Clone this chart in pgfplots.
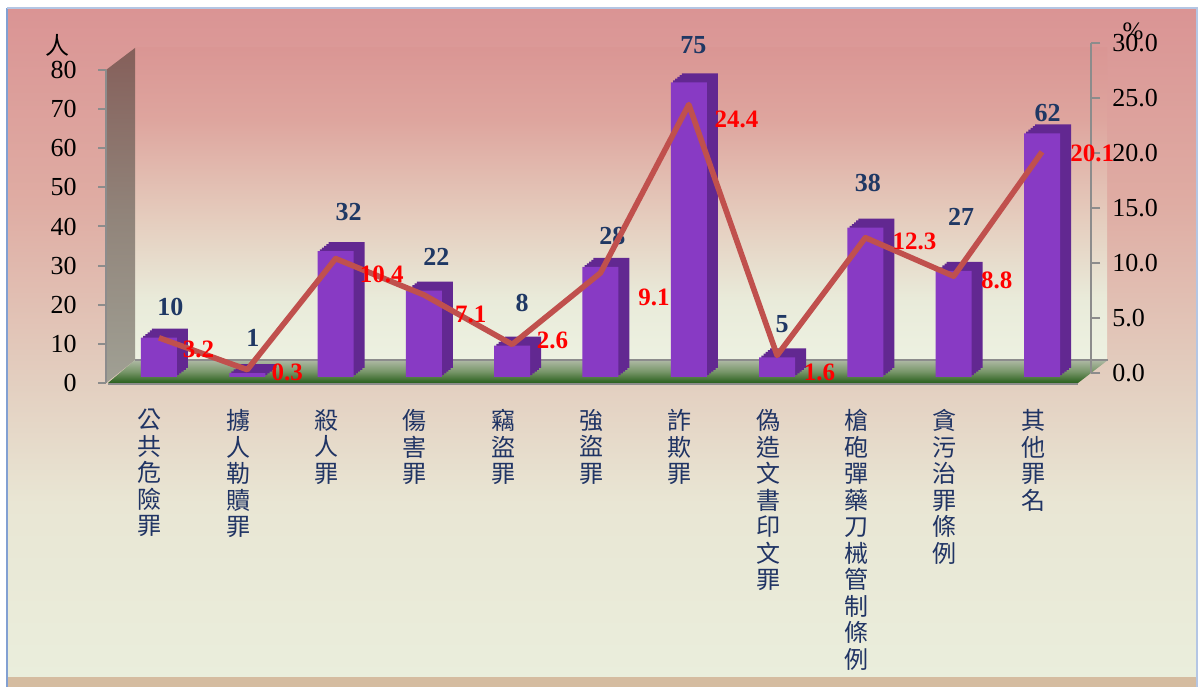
\documentclass[border=0pt]{standalone}
\usepackage{fontspec}
\setmainfont{Liberation Serif}
\newfontfamily\cjk{Noto Sans CJK TC}
\usepackage{pgfplots}
\usepackage{pgfplotstable}
\pgfplotsset{compat=1.18}

% colours
\definecolor{bgA}{RGB}{234,238,220}
\definecolor{bgB}{RGB}{233,230,212}
\definecolor{bgC}{RGB}{227,207,192}
\definecolor{bgD}{RGB}{223,172,163}
\definecolor{bgE}{RGB}{218,148,148}
\definecolor{wA}{RGB}{237,241,225}
\definecolor{wB}{RGB}{233,235,218}
\definecolor{wC}{RGB}{229,205,190}
\definecolor{wD}{RGB}{222,165,158}
\definecolor{wE}{RGB}{218,150,148}
\definecolor{sA}{RGB}{160,160,148}
\definecolor{sB}{RGB}{145,132,122}
\definecolor{sC}{RGB}{133,95,90}
\definecolor{fA}{RGB}{40,95,28}
\definecolor{fB}{RGB}{120,150,105}
\definecolor{fC}{RGB}{175,185,165}
\definecolor{barfront}{RGB}{136,58,196}
\definecolor{barside}{RGB}{98,40,145}
\definecolor{linered}{RGB}{192,80,77}
\definecolor{navy}{RGB}{31,56,100}
\definecolor{labelblue}{RGB}{32,52,100}
\definecolor{axisgrey}{RGB}{140,140,140}
\definecolor{tan}{RGB}{213,188,160}
\definecolor{frameblue}{RGB}{130,160,210}

\pgfdeclareverticalshading{outerbg}{100bp}{color(0bp)=(bgA); color(25bp)=(bgA); color(38bp)=(bgB); color(47bp)=(bgC); color(60.5bp)=(bgD); color(75bp)=(bgE); color(100bp)=(bgE)}
\pgfdeclareverticalshading{wallbg}{100bp}{color(0bp)=(wA); color(25bp)=(wA); color(34.5bp)=(wB); color(47.5bp)=(wC); color(63.5bp)=(wD); color(75bp)=(wE); color(100bp)=(wE)}
\pgfdeclareverticalshading{sidebg}{100bp}{color(0bp)=(sA); color(25bp)=(sA); color(50bp)=(sB); color(75bp)=(sC); color(100bp)=(sC)}
\pgfdeclareverticalshading{floorbg}{100bp}{color(0bp)=(fA); color(25bp)=(fA); color(50bp)=(fB); color(75bp)=(fC); color(100bp)=(fC)}

% counts, with label offsets in pt
\pgfplotstableread{
x  n   lx    ly
0  10  5.75  15.5
1  1   2.75  17.5
2  32  6.5   19.5
3  22  6.25  17
4  8   5     21.5
5  28  6     15.5
6  75  2.25  18.5
7  5   2.5   16.5
8  38  1.25  22.5
9  27  3.75  27
10 62  2.75  10
}\countdata

% percentages, with label offsets in pt
\pgfplotstableread{
x  p     lx     ly
0  3.2   10.5   -6
1  0.3   10.75  -1.5
2  10.4  10.75  -8
3  7.1   14.25  -10
4  2.6   11     2
5  9.1   17.5   -12.5
6  24.4  11.5   -7.5
7  1.6   12     -8.5
8  12.3  12.25  -2
9  8.8   12.25  -2
10 20.1  12.75  -0.5
}\pctdata

\begin{document}
\begin{tikzpicture}
% background, frame and 3d walls (pixel grid of the reference)
\begin{scope}[x=0.5pt,y=-0.5pt,shift={(0,343.5pt)}]
\fill[white] (0,0) rectangle (1202,687);
\shade[shading=outerbg] (8,8) rectangle (1197,677);
\fill[tan] (8,677) rectangle (1197,687);
\draw[frameblue,line width=1pt] (7,8) -- (7,687);
\draw[frameblue!60,line width=0.6pt] (7,8) -- (1197,8) -- (1197,687);
\shade[shading=wallbg] (135,48) rectangle (1107,360);
\shade[shading=sidebg] (106,70) -- (135,48) -- (135,360) -- (106,383) -- cycle;
\shade[shading=floorbg] (108,383) -- (1078,383) -- (1108,360) -- (135,360) -- cycle;
\draw[axisgrey,line width=1pt] (135,360) -- (1108,360);
\draw[axisgrey,line width=1pt] (108,384.5) -- (1078,384.5);
\node[font=\cjk\fontsize{12}{12}\selectfont] at (57,45) {人};
\node[font=\fontsize{12.5}{12.5}\selectfont] at (1133,31) {\%};
\end{scope}

% left axis and category names
\begin{axis}[
  at={(53pt,152pt)}, anchor=south west, scale only axis,
  width=492.5pt, height=156.5pt,
  xmin=-0.6, xmax=10.555, ymin=0, ymax=80,
  axis y line*=left, axis x line*=bottom,
  x axis line style={draw=none},
  y axis line style={draw=axisgrey,line width=1pt},
  tick align=outside, major tick length=4pt,
  ytick={0,10,...,80},
  ytick style={draw=axisgrey,line width=1pt},
  xtick={0,...,10},
  major x tick style={draw=none},
  yticklabel style={font=\fontsize{13}{13}\selectfont, inner sep=0pt, anchor=east, xshift=-10.5pt},
  /pgf/number format/assume math mode=true,
  xticklabels={{公\\共\\危\\險\\罪},{擄\\人\\勒\\贖\\罪},{殺\\人\\罪},{傷\\害\\罪},{竊\\盜\\罪},{強\\盜\\罪},{詐\\欺\\罪},{偽\\造\\文\\書\\印\\文\\罪},{槍\\砲\\彈\\藥\\刀\\械\\管\\制\\條\\例},{貪\\污\\治\\罪\\條\\例},{其\\他\\罪\\名}},
  xticklabel style={font=\cjk\fontsize{12}{13.25}\selectfont, align=center, anchor=north, inner sep=0pt, text=labelblue, xshift=-4.5pt, yshift=-9pt},
]
\addplot[draw=none] coordinates {(0,0)};
\end{axis}

% bars
\begin{axis}[
  at={(53pt,155pt)}, anchor=south west, scale only axis,
  width=492.5pt, height=157.2pt,
  xmin=-0.6, xmax=10.555, ymin=0, ymax=80,
  hide axis, clip=false,
]
\addplot[ybar, bar width=18pt, bar shift=5.5pt, yshift=4.5pt, fill=barside, draw=none] table[x=x,y=n] {\countdata};
\addplot[ybar, bar width=18pt, bar shift=4.4pt, yshift=3.6pt, fill=barside, draw=none] table[x=x,y=n] {\countdata};
\addplot[ybar, bar width=18pt, bar shift=3.3pt, yshift=2.7pt, fill=barside, draw=none] table[x=x,y=n] {\countdata};
\addplot[ybar, bar width=18pt, bar shift=2.2pt, yshift=1.8pt, fill=barside, draw=none] table[x=x,y=n] {\countdata};
\addplot[ybar, bar width=18pt, bar shift=1.1pt, yshift=0.9pt, fill=barside, draw=none] table[x=x,y=n] {\countdata};
\addplot[ybar, bar width=18pt, bar shift=0pt, fill=barfront, draw=none,
  visualization depends on={\thisrow{lx} \as \lblx},
  visualization depends on={\thisrow{ly} \as \lbly},
  nodes near coords,
  every node near coord/.append style={anchor=center, inner sep=0pt, xshift=\lblx pt, yshift=\lbly pt,
    font=\bfseries\fontsize{13}{13}\selectfont, text=navy, /pgf/number format/assume math mode=true},
] table[x=x,y=n] {\countdata};
\end{axis}

% percentage line and right axis
\begin{axis}[
  at={(53pt,157pt)}, anchor=south west, scale only axis,
  width=492.5pt, height=165pt,
  xmin=-0.6, xmax=10.555, ymin=0, ymax=30,
  axis y line*=right, axis x line=none, clip=false,
  y axis line style={draw=axisgrey,line width=1pt},
  tick align=outside, major tick length=4.5pt,
  ytick={0,5,...,30},
  ytick style={draw=axisgrey,line width=1pt},
  yticklabel style={font=\fontsize{13}{13}\selectfont, inner sep=0pt, anchor=west, xshift=6pt,
    /pgf/number format/.cd, fixed, fixed zerofill, precision=1, assume math mode=true},
]
\addplot[linered, line width=2.8pt, line join=round, mark=none,
  visualization depends on={\thisrow{lx} \as \lblx},
  visualization depends on={\thisrow{ly} \as \lbly},
  nodes near coords={\pgfmathprintnumber[fixed,fixed zerofill,precision=1,assume math mode=true]{\pgfplotspointmeta}},
  every node near coord/.append style={anchor=west, inner sep=0pt, xshift=\lblx pt, yshift=\lbly pt,
    font=\bfseries\fontsize{12.5}{12.5}\selectfont, text=red},
] table[x=x,y=p] {\pctdata};
\end{axis}
\end{tikzpicture}
\end{document}
